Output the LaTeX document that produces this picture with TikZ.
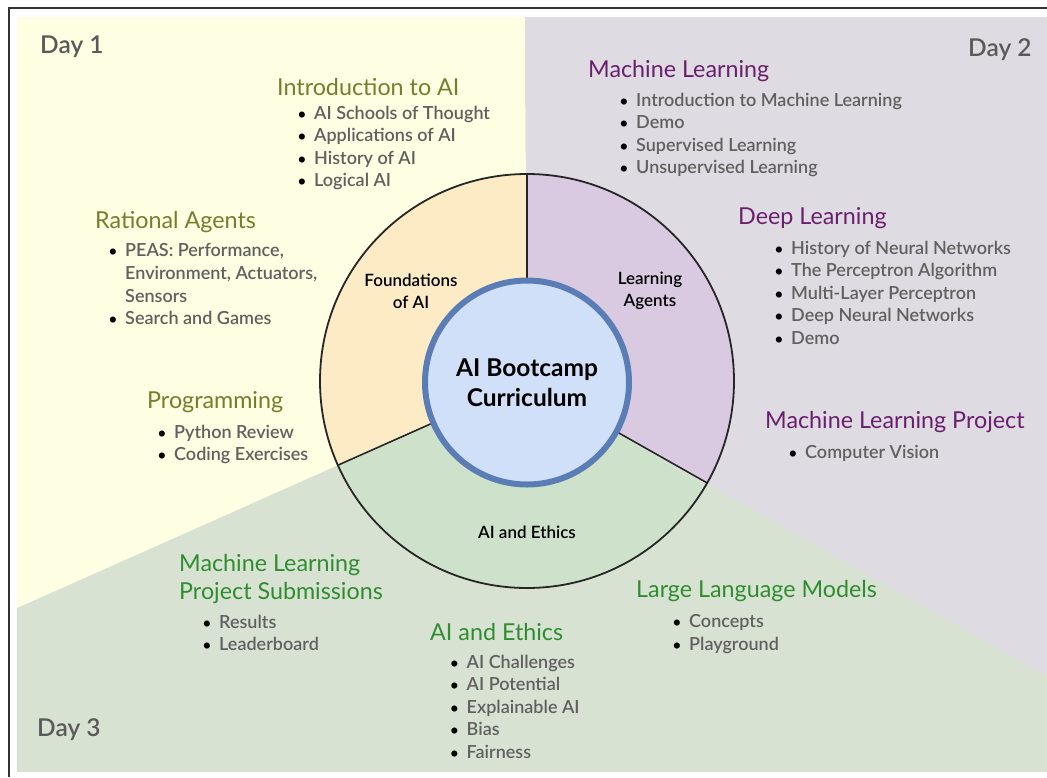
\documentclass[tikz,border=0pt]{standalone}
\usepackage{fontspec}
\usetikzlibrary{calc}
\setmainfont{Lato}
\newfontfamily\latosemi{Lato Semibold}
\newfontfamily\latomed{Lato Medium}
\newfontfamily\latobold{Lato Bold}
\definecolor{bgyellow}{HTML}{FEFEE2}
\definecolor{bgpurple}{HTML}{DFDBE2}
\definecolor{bggreen}{HTML}{D8E2D2}
\definecolor{slyellow}{HTML}{FDEBC6}
\definecolor{slpurple}{HTML}{D9CAE2}
\definecolor{slgreen}{HTML}{CEE2CB}
\definecolor{cfill}{HTML}{D0E0F8}
\definecolor{cborder}{HTML}{5B7DB6}
\definecolor{olivet}{HTML}{737F2B}
\definecolor{purplet}{HTML}{6A1F6E}
\definecolor{greent}{HTML}{2F8D2F}
\definecolor{grayt}{HTML}{606060}
\definecolor{dayt}{HTML}{5A5A5A}
\newcommand{\bl}[1]{\makebox[16.5pt][l]{{\fontsize{15}{15}\selectfont\color{black}\textbullet}}#1}
\newcommand{\cont}{\hspace*{16.5pt}}
\tikzset{
  daylab/.style={anchor=west, inner sep=0pt, text=dayt, font=\latosemi\fontsize{24.5}{28}\selectfont},
  ttl/.style={anchor=west, inner sep=0pt, font=\fontsize{23.3}{28}\selectfont},
  items/.style={anchor=north west, inner sep=0pt, align=left, text=grayt, font=\latosemi\fontsize{18}{22.6}\selectfont},
  slab/.style={inner sep=0pt, align=center, text=black, font=\latosemi\fontsize{17}{22}\selectfont},
  radial/.style={draw=black!85, line width=1.6pt}
}
\begin{document}
\begin{tikzpicture}[x=1pt,y=-1pt]
\useasboundingbox (0,0) rectangle (1047,777);
% backgrounds
\fill[bggreen] (17,17) rectangle (1047,772);
\coordinate (c) at (527,381);
\fill[bgyellow] (17,17) -- (525,17) -- (c) -- (17,608) -- cycle;
\fill[bgpurple] (525,17) -- (1047,17) -- (1047,676) -- (c) -- cycle;
% frame
\draw[black!80, line width=1.3pt] (8,8) -- (1047,8);
\draw[black!80, line width=1.3pt] (9,8) -- (9,777);
% slices
\fill[slyellow] (c) -- ++(-90:207) arc[start angle=-90, end angle=-204, radius=207] -- cycle;
\fill[slpurple] (c) -- ++(29.5:207) arc[start angle=29.5, end angle=-90, radius=207] -- cycle;
\fill[slgreen] (c) -- ++(-204:207) arc[start angle=-204, end angle=-329.5, radius=207] -- cycle;
\coordinate (o1) at ($(c)+(-90:207)$);
\coordinate (o2) at ($(c)+(-204:207)$);
\coordinate (o3) at ($(c)+(29.5:207)$);
\draw[radial] (c) -- (o1);
\draw[radial] (c) -- (o2);
\draw[radial] (c) -- (o3);
\draw[black!85, line width=1.8pt] (c) circle[radius=207];
\node[circle, draw=cborder, line width=6pt, fill=cfill, minimum size=204pt, inner sep=0pt, align=center,
  font=\latobold\fontsize{24.5}{29.5}\selectfont] (core) at ($(c)+(0,1.5)$) {AI Bootcamp\\Curriculum};
% slice labels
\node[slab] (found) at (411,291) {Foundations\\of AI};
\node[slab] (learn) at (650,291) {Learning\\Agents};
\node[slab] (ethl) at (527,532) {AI and Ethics};
% days
\node[daylab] (d1) at (40,47) {Day 1};
\node[daylab] (d2) at (968,50) {Day 2};
\node[daylab] (d3) at (37,730) {Day 3};
% Day 1
\node[ttl, text=olivet] (t1) at (277,87) {Introduction to AI};
\node[items] (i1) at (297.5,105.5) {\bl{AI Schools of Thought}\\\bl{Applications of AI}\\\bl{History of AI}\\\bl{Logical AI}};
\node[ttl, text=olivet] (t2) at (95,222) {Rational Agents};
\node[items] (i2) at (108.5,243.5) {\bl{PEAS: Performance,}\\\cont Environment, Actuators,\\\cont Sensors\\\bl{Search and Games}};
\node[ttl, text=olivet] (t3) at (147,402) {Programming};
\node[items] (i3) at (157.5,424.5) {\bl{Python Review}\\\bl{Coding Exercises}};
% Day 2
\node[ttl, text=purplet] (t4) at (588,71) {Machine Learning};
\node[items] (i4) at (619.5,92.5) {\bl{Introduction to Machine Learning}\\\bl{Demo}\\\bl{Supervised Learning}\\\bl{Unsupervised Learning}};
\node[ttl, text=purplet] (t5) at (738,218) {Deep Learning};
\node[items] (i5) at (774.5,240.5) {\bl{History of Neural Networks}\\\bl{The Perceptron Algorithm}\\\bl{Multi-Layer Perceptron}\\\bl{Deep Neural Networks}\\\bl{Demo}};
\node[ttl, text=purplet] (t6) at (765,422) {Machine Learning Project};
\node[items] (i6) at (788.5,445.5) {\bl{Computer Vision}};
% Day 3
\node[ttl, text=greent, align=left] (t7) at (179,579) {Machine Learning\\Project Submissions};
\node[items] (i7) at (202.5,614.5) {\bl{Results}\\\bl{Leaderboard}};
\node[ttl, text=greent] (t8) at (430,632) {AI and Ethics};
\node[items] (i8) at (450,654.5) {\bl{AI Challenges}\\\bl{AI Potential}\\\bl{Explainable AI}\\\bl{Bias}\\\bl{Fairness}};
\node[ttl, text=greent] (t9) at (636,591) {Large Language Models};
\node[items] (i9) at (672.5,614.5) {\bl{Concepts}\\\bl{Playground}};
\end{tikzpicture}
\end{document}
